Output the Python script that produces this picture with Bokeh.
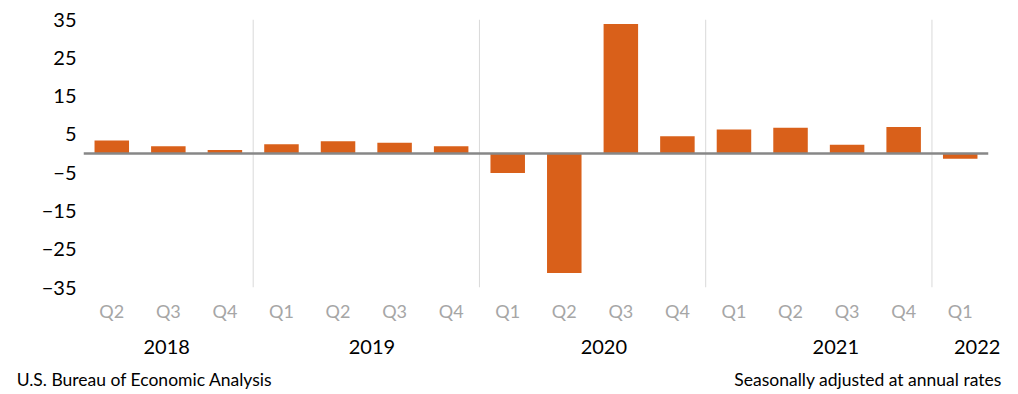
from bokeh.plotting import figure
from bokeh.models import (Range1d, FixedTicker, Span, ColumnDataSource,
                          LinearAxis, CustomJSTickFormatter)
from bokeh.embed import file_html
from bokeh.resources import INLINE

# ---- data ----
quarters = ["Q2", "Q3", "Q4", "Q1", "Q2", "Q3", "Q4", "Q1", "Q2", "Q3", "Q4",
            "Q1", "Q2", "Q3", "Q4", "Q1"]
years = ["2018"] * 3 + ["2019"] * 4 + ["2020"] * 4 + ["2021"] * 4 + ["2022"]
growth = [3.4, 1.9, 0.9, 2.4, 3.2, 2.8, 1.9, -5.1, -31.2, 33.8, 4.5,
          6.3, 6.7, 2.3, 6.9, -1.4]
year_labels = ["2018", "2019", "2020", "2021", "2022"]
y_ticks = [-35, -25, -15, -5, 5, 15, 25, 35]
footer_labels = ["U.S. Bureau of Economic Analysis",
                 "Seasonally adjusted at annual rates"]

# ---- layout constants ----
FONT = "Lato"
BAR_COLOR = "#D9601A"
year_label_x = [1.47, 5.1, 9.2, 13.3, 15.8]
footer_x = [1.08, 13.87]


def plain_axis(ax, size, color, standoff):
    ax.axis_line_color = None
    ax.major_tick_line_color = None
    ax.minor_tick_line_color = None
    ax.major_tick_out = 0
    ax.major_tick_in = 0
    ax.major_label_text_font = FONT
    ax.major_label_text_font_size = size
    ax.major_label_text_color = color
    ax.major_label_standoff = standoff


n = len(growth)
xs = [i + 0.5 for i in range(n)]
src = ColumnDataSource(dict(x=xs, top=growth))

p = figure(width=1018, height=394,
           x_range=Range1d(0, n), y_range=Range1d(-35, 35),
           output_backend="svg", toolbar_location=None,
           min_border_left=83, min_border_right=30,
           min_border_top=19, min_border_bottom=107)

p.vbar(x="x", top="top", bottom=0, width=0.61, source=src,
       fill_color=BAR_COLOR, line_color=None)

for i in range(1, n):
    if years[i] != years[i - 1]:
        p.add_layout(Span(location=i, dimension="height",
                          line_color="#d9d9d9", line_width=1))

p.add_layout(Span(location=0, dimension="width", line_color="#878787", line_width=2.5))

p.xgrid.visible = False
p.ygrid.visible = False
p.outline_line_color = None

ya = p.yaxis[0]
ya.ticker = FixedTicker(ticks=y_ticks)
plain_axis(ya, "20px", "#000000", 7)

xa = p.xaxis[0]
xa.ticker = FixedTicker(ticks=xs)
xa.formatter = CustomJSTickFormatter(args=dict(labels=quarters),
                                     code="return labels[Math.floor(tick)];")
plain_axis(xa, "18px", "#a6a6a6", 12)

ax2 = LinearAxis(ticker=FixedTicker(ticks=year_label_x),
                 formatter=CustomJSTickFormatter(args=dict(labels=year_labels),
                                                 code="return labels[index];"))
plain_axis(ax2, "20px", "#000000", 15)
p.add_layout(ax2, "below")

ax3 = LinearAxis(ticker=FixedTicker(ticks=footer_x),
                 formatter=CustomJSTickFormatter(args=dict(labels=footer_labels),
                                                 code="return labels[index];"))
plain_axis(ax3, "17.5px", "#000000", 12)
p.add_layout(ax3, "below")

open("out.html", "w").write(file_html(p, INLINE))
